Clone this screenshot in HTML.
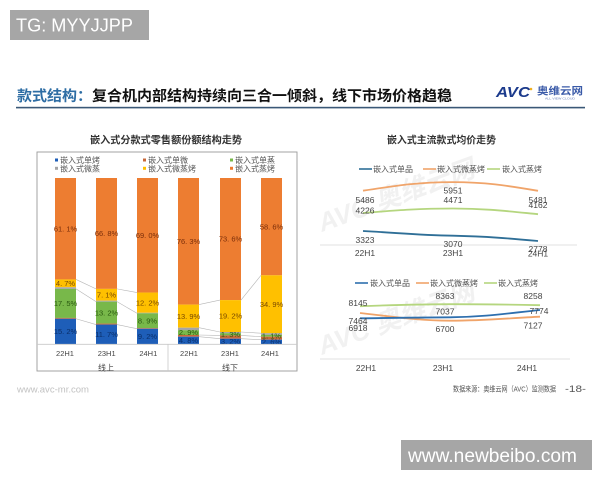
<!DOCTYPE html>
<html><head><meta charset="utf-8"><style>
html,body{margin:0;padding:0;background:#fff;width:600px;height:480px;overflow:hidden}
svg{display:block}
text{font-family:"Liberation Sans","Noto Sans CJK SC",sans-serif}
</style></head><body>
<svg width="600" height="480" viewBox="0 0 600 480" xmlns="http://www.w3.org/2000/svg">
<rect width="600" height="480" fill="#fff"/>

<!-- TG box -->
<rect x="10" y="10" width="139" height="30" fill="#a6a6a6"/>
<text x="16" y="31.5" font-size="18" fill="#fff" textLength="117" lengthAdjust="spacingAndGlyphs">TG: MYYJJPP</text>

<!-- Title -->
<text x="17" y="101" font-size="14.5" font-weight="bold" fill="#111" textLength="435" lengthAdjust="spacingAndGlyphs"><tspan fill="#2e6da4">款式结构：</tspan>复合机内部结构持续向三合一倾斜，线下市场价格趋稳</text>
<rect x="16" y="106.8" width="569" height="1.6" fill="#3a5877"/>

<!-- AVC logo -->
<text x="496" y="97" font-size="15" font-weight="bold" font-style="italic" fill="#1b3a8c" textLength="34" lengthAdjust="spacingAndGlyphs">AVC</text>
<circle cx="531" cy="89" r="1.3" fill="#f0b020"/>
<text x="537" y="94.5" font-size="10" font-weight="bold" fill="#3a5aa8" textLength="46" lengthAdjust="spacingAndGlyphs">奥维云网</text>
<text x="545" y="99.5" font-size="3" fill="#6a7fb8" textLength="30" lengthAdjust="spacingAndGlyphs">ALL VIEW CLOUD</text>

<!-- Watermarks -->
<g fill="#f1f1f1" font-weight="bold" font-style="italic">
<text x="0" y="0" font-size="26" transform="translate(322,232) rotate(-20)">AVC 奥维云网</text>
<text x="0" y="0" font-size="26" transform="translate(322,355) rotate(-20)">AVC 奥维云网</text>
</g>

<!-- LEFT CHART -->
<rect x="37" y="152" width="260" height="219" fill="none" stroke="#9a9a9a" stroke-width="0.9"/>
<text x="166" y="143.5" font-size="10" font-weight="bold" fill="#333" text-anchor="middle" textLength="152" lengthAdjust="spacingAndGlyphs">嵌入式分款式零售额份额结构走势</text>

<!-- legend -->
<g font-size="8" fill="#555">
<rect x="55" y="158.5" width="3" height="3" fill="#1e5eb8"/><text x="60" y="163">嵌入式单烤</text>
<rect x="143" y="158.5" width="3" height="3" fill="#c8683a"/><text x="148" y="163">嵌入式单微</text>
<rect x="230" y="158.5" width="3" height="3" fill="#78b84a"/><text x="235" y="163">嵌入式单蒸</text>
<rect x="55" y="166.8" width="3" height="3" fill="#a5a5a5"/><text x="60" y="171.3">嵌入式微蒸</text>
<rect x="143" y="166.8" width="3" height="3" fill="#ffc000"/><text x="148" y="171.3">嵌入式微蒸烤</text>
<rect x="230" y="166.8" width="3" height="3" fill="#ed7d31"/><text x="235" y="171.3">嵌入式蒸烤</text>
</g>

<!-- bars -->
<g>
<rect x="55" y="178" width="21" height="101.43" fill="#ed7d31"/>
<rect x="55" y="279.43" width="21" height="7.8" fill="#ffc000"/>
<rect x="55" y="287.23" width="21" height="1.66" fill="#a5a5a5"/>
<rect x="55" y="288.89" width="21" height="29.05" fill="#78b84a"/>
<rect x="55" y="317.94" width="21" height="0.83" fill="#c8683a"/>
<rect x="55" y="318.77" width="21" height="25.23" fill="#1e5eb8"/>
</g>
<g>
<rect x="96" y="178" width="21" height="110.88" fill="#ed7d31"/>
<rect x="96" y="288.88" width="21" height="11.79" fill="#ffc000"/>
<rect x="96" y="300.67" width="21" height="1" fill="#a5a5a5"/>
<rect x="96" y="301.67" width="21" height="21.91" fill="#78b84a"/>
<rect x="96" y="323.58" width="21" height="1" fill="#c8683a"/>
<rect x="96" y="324.58" width="21" height="19.42" fill="#1e5eb8"/>
</g>
<g>
<rect x="137" y="178" width="21" height="114.55" fill="#ed7d31"/>
<rect x="137" y="292.55" width="21" height="20.25" fill="#ffc000"/>
<rect x="137" y="312.8" width="21" height="0.5" fill="#a5a5a5"/>
<rect x="137" y="313.3" width="21" height="14.77" fill="#78b84a"/>
<rect x="137" y="328.07" width="21" height="0.66" fill="#c8683a"/>
<rect x="137" y="328.73" width="21" height="15.27" fill="#1e5eb8"/>
</g>
<g>
<rect x="178" y="178" width="21" height="126.6" fill="#ed7d31"/>
<rect x="178" y="304.6" width="21" height="23.1" fill="#ffc000"/>
<rect x="178" y="327.7" width="21" height="2.5" fill="#a5a5a5"/>
<rect x="178" y="330.2" width="21" height="4.8" fill="#78b84a"/>
<rect x="178" y="335" width="21" height="1.7" fill="#c8683a"/>
<rect x="178" y="336.7" width="21" height="7.3" fill="#1e5eb8"/>
</g>
<g>
<rect x="220" y="178" width="21" height="122.1" fill="#ed7d31"/>
<rect x="220" y="300.1" width="21" height="31.9" fill="#ffc000"/>
<rect x="220" y="332" width="21" height="1.2" fill="#a5a5a5"/>
<rect x="220" y="333.2" width="21" height="2.2" fill="#78b84a"/>
<rect x="220" y="335.4" width="21" height="3.3" fill="#c8683a"/>
<rect x="220" y="338.7" width="21" height="5.3" fill="#1e5eb8"/>
</g>
<g>
<rect x="261" y="178" width="21" height="97.3" fill="#ed7d31"/>
<rect x="261" y="275.3" width="21" height="57.9" fill="#ffc000"/>
<rect x="261" y="333.2" width="21" height="1.7" fill="#a5a5a5"/>
<rect x="261" y="334.9" width="21" height="1.8" fill="#78b84a"/>
<rect x="261" y="336.7" width="21" height="3" fill="#c8683a"/>
<rect x="261" y="339.7" width="21" height="4.3" fill="#1e5eb8"/>
</g>

<!-- series lines -->
<g stroke="#b5b5b5" stroke-width="0.6" fill="none">
<line x1="76" y1="279.43" x2="96" y2="288.88"/><line x1="117" y1="288.88" x2="137" y2="292.55"/>
<line x1="76" y1="288.89" x2="96" y2="301.67"/><line x1="117" y1="301.67" x2="137" y2="313.3"/>
<line x1="76" y1="318.77" x2="96" y2="324.58"/><line x1="117" y1="324.58" x2="137" y2="328.73"/>
<line x1="199" y1="304.6" x2="220" y2="300.1"/><line x1="241" y1="300.1" x2="261" y2="275.3"/>
<line x1="199" y1="327.7" x2="220" y2="332"/><line x1="241" y1="332" x2="261" y2="333.2"/>
<line x1="199" y1="335" x2="220" y2="335.4"/><line x1="241" y1="335.4" x2="261" y2="336.7"/>
<line x1="199" y1="336.7" x2="220" y2="338.7"/><line x1="241" y1="338.7" x2="261" y2="339.7"/>
</g>

<!-- bar labels -->
<g font-size="7.5" text-anchor="middle">
<g fill="#7a2e0a">
<text x="65.5" y="231.4">61. 1%</text><text x="106.5" y="236.1">66. 8%</text><text x="147.5" y="238">69. 0%</text>
<text x="188.5" y="244">76. 3%</text><text x="230.5" y="241.7">73. 6%</text><text x="271.5" y="229.3">58. 6%</text>
</g>
<g fill="#7a4a00">
<text x="65.5" y="286">4. 7%</text><text x="106.5" y="297.5">7. 1%</text><text x="147.5" y="305.4">12. 2%</text>
<text x="188.5" y="318.9">13. 9%</text><text x="230.5" y="318.7">19. 2%</text><text x="271.5" y="306.9">34. 9%</text>
</g>
<g fill="#2a5a10">
<text x="65.5" y="306.1">17. 5%</text><text x="106.5" y="315.3">13. 2%</text><text x="147.5" y="323.4">8. 9%</text>
<text x="188.5" y="334.8">2. 9%</text><text x="230.5" y="336.8">1. 3%</text><text x="271.5" y="338.3">1. 1%</text>
</g>
<g fill="#0a2f6a">
<text x="65.5" y="334.1">15. 2%</text><text x="106.5" y="337">11. 7%</text><text x="147.5" y="339.1">9. 2%</text>
<text x="188.5" y="343">4. 8%</text><text x="230.5" y="343.8">3. 2%</text><text x="271.5" y="344.3">2. 6%</text>
</g>
</g>

<!-- category axis -->
<line x1="37" y1="344.3" x2="297" y2="344.3" stroke="#c8c8c8" stroke-width="0.8"/>
<line x1="168" y1="344.3" x2="168" y2="371" stroke="#c8c8c8" stroke-width="0.8"/>
<g font-size="7.5" fill="#444" text-anchor="middle">
<text x="65" y="356">22H1</text><text x="106.7" y="356">23H1</text><text x="148.3" y="356">24H1</text>
<text x="189" y="356">22H1</text><text x="230" y="356">23H1</text><text x="270" y="356">24H1</text>
<text x="106" y="370.5" font-size="8">线上</text><text x="230" y="370.5" font-size="8">线下</text>
</g>

<!-- RIGHT CHART -->
<text x="441.5" y="143.5" font-size="10" font-weight="bold" fill="#333" text-anchor="middle" textLength="109" lengthAdjust="spacingAndGlyphs">嵌入式主流款式均价走势</text>

<g font-size="8" fill="#555">
<line x1="359" y1="169" x2="372" y2="169" stroke="#2f6f97" stroke-width="1.6"/><text x="373" y="172">嵌入式单品</text>
<line x1="423" y1="169" x2="436" y2="169" stroke="#f0a46a" stroke-width="1.6"/><text x="437" y="172">嵌入式微蒸烤</text>
<line x1="487" y1="169" x2="500" y2="169" stroke="#b5d67f" stroke-width="1.6"/><text x="502" y="172">嵌入式蒸烤</text>
</g>

<g fill="none" stroke-width="1.8">
<path d="M363,190.7 C400,185 420,182.1 453,182.1 C486,182.1 506,185.5 538,190.8" stroke="#f0a46a"/>
<path d="M363,213 C400,210 420,208.5 453,208.5 C486,208.5 506,211 538,214.2" stroke="#b5d67f"/>
<path d="M363,231 C400,233 420,235.2 453,235.7 C488,236.5 510,238.5 538,241" stroke="#2f6f97"/>
</g>
<line x1="320" y1="245" x2="577" y2="245" stroke="#d9d9d9" stroke-width="0.8"/>
<g font-size="8.5" fill="#444" text-anchor="middle">
<text x="453" y="193.5">5951</text>
<text x="365" y="203">5486</text><text x="453" y="203">4471</text><text x="538" y="203">5481</text>
<text x="538" y="208">4162</text>
<text x="365" y="213.7">4226</text>
<text x="365" y="243">3323</text><text x="453" y="247">3070</text><text x="538" y="252">2778</text>
<text x="365" y="256">22H1</text><text x="453" y="256">23H1</text><text x="538" y="256.5">24H1</text>
</g>

<g font-size="8" fill="#555">
<line x1="355" y1="283" x2="368" y2="283" stroke="#2e6fae" stroke-width="1.6"/><text x="370" y="286">嵌入式单品</text>
<line x1="416" y1="283" x2="429" y2="283" stroke="#f0a46a" stroke-width="1.6"/><text x="430" y="286">嵌入式微蒸烤</text>
<line x1="484" y1="283" x2="497" y2="283" stroke="#b5d67f" stroke-width="1.6"/><text x="498" y="286">嵌入式蒸烤</text>
</g>

<g fill="none" stroke-width="1.8">
<path d="M360,306.2 C395,305 420,304.2 450,304.2 C485,304.2 510,304.6 540,305.2" stroke="#b5d67f"/>
<path d="M360,313 C395,317 420,320.7 450,320.7 C485,320.7 510,318 540,316.7" stroke="#f0a46a"/>
<path d="M360,318.3 C395,318 420,317.3 450,317.3 C485,317 510,313 540,310" stroke="#2e6fae"/>
</g>
<line x1="320" y1="359" x2="570" y2="359" stroke="#d9d9d9" stroke-width="0.8"/>
<g font-size="8.5" fill="#444" text-anchor="middle">
<text x="358" y="306">8145</text><text x="445" y="299">8363</text><text x="533" y="299">8258</text>
<text x="445" y="314.7">7037</text><text x="539" y="314">7774</text>
<text x="358" y="324">7464</text><text x="358" y="331">6918</text>
<text x="445" y="332">6700</text><text x="533" y="328.7">7127</text>
<text x="366" y="371">22H1</text><text x="443" y="371">23H1</text><text x="527" y="371">24H1</text>
</g>

<!-- footer -->
<text x="17" y="392.5" font-size="9.5" fill="#c2c2c2" textLength="72" lengthAdjust="spacingAndGlyphs">www.avc-mr.com</text>
<text x="453" y="391.5" font-size="7.5" fill="#555" textLength="103" lengthAdjust="spacingAndGlyphs">数据来源：奥维云网（AVC）监测数据</text>
<text x="565" y="392" font-size="9" fill="#555" textLength="21" lengthAdjust="spacingAndGlyphs">-18-</text>

<rect x="401" y="440" width="191" height="30" fill="#a6a6a6"/>
<text x="408" y="462" font-size="19" fill="#fff" textLength="169" lengthAdjust="spacingAndGlyphs">www.newbeibo.com</text>
</svg>
</body></html>
